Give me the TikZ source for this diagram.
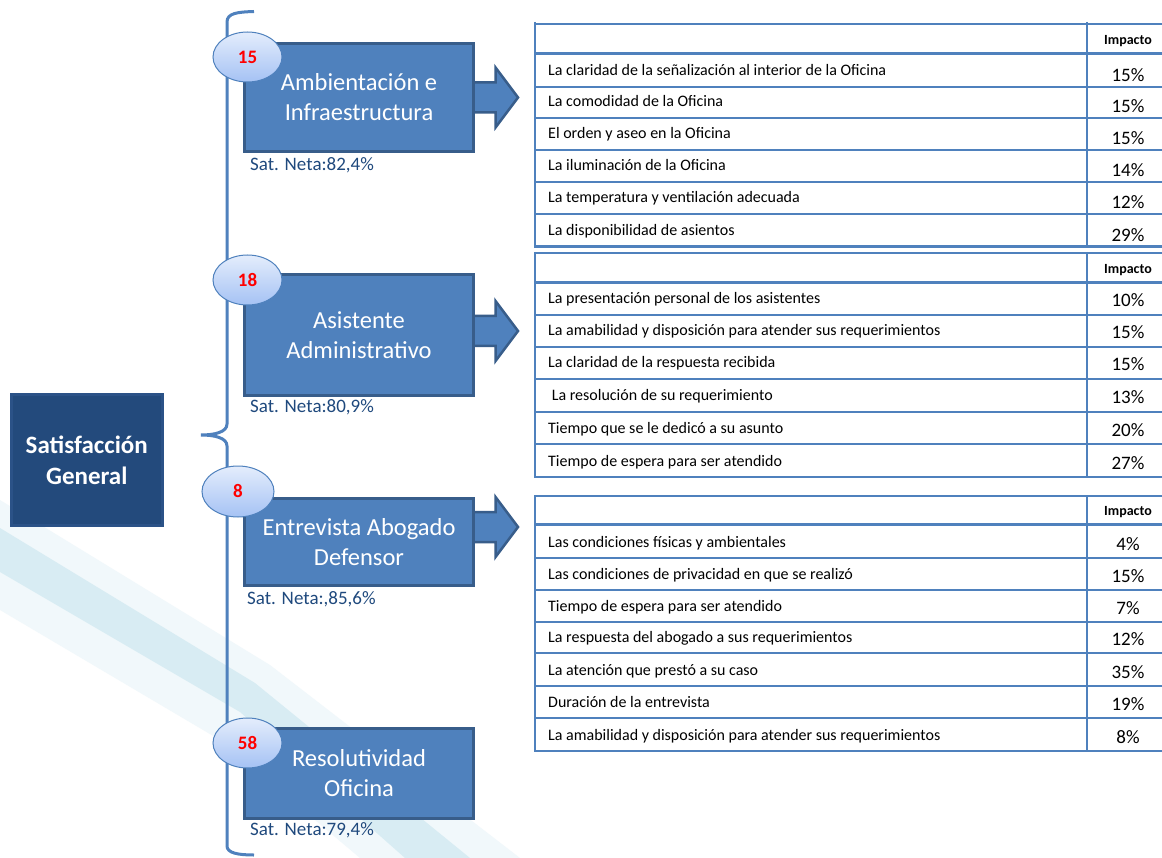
\documentclass[tikz,border=0pt]{standalone}
\usepackage{fontspec}
\setmainfont{Carlito}
\usetikzlibrary{shapes.geometric,calc}
\definecolor{boxfill}{HTML}{4F81BD}
\definecolor{boxline}{HTML}{385D8A}
\definecolor{sgfill}{HTML}{234A7C}
\definecolor{sgline}{HTML}{2B5287}
\definecolor{satcol}{HTML}{1F497D}
\definecolor{ovtop}{HTML}{E4EDFC}
\definecolor{ovbot}{HTML}{A5C2F4}
\definecolor{tabcol}{HTML}{4F81BD}
\definecolor{streak}{HTML}{D8ECF3}
\definecolor{streakwide}{HTML}{F1F8FB}
\pgfdeclarelayer{bg}
\pgfdeclarelayer{arrowlayer}
\pgfsetlayers{bg,arrowlayer,main}
\begin{document}
\begin{tikzpicture}[x=1pt,y=-1pt,
 catbox/.style={draw=boxline,line width=3pt,fill=boxfill,text=white,minimum width=229,align=center,inner sep=0pt,font=\fontsize{24.5}{30}\selectfont},
 sgbox/.style={draw=sgline,line width=3pt,fill=sgfill,text=white,minimum width=150.5,minimum height=131,align=center,inner sep=0pt,font=\bfseries\fontsize{25}{31}\selectfont},
 numoval/.style={ellipse,draw=boxfill,line width=1pt,top color=ovtop,bottom color=ovbot,text=red,font=\bfseries\fontsize{19}{22}\selectfont,minimum width=69,minimum height=50,inner sep=0pt},
 sattext/.style={anchor=base west,text=satcol,font=\fontsize{19}{22}\selectfont,inner sep=0pt},
 blockarrow/.style={draw=boxline,line width=2.5pt,fill=boxfill,line join=miter},
 brace/.style={draw=boxfill,line width=3pt},
 tabline/.style={draw=tabcol,line width=2pt},
 headline/.style={draw=tabcol,line width=3pt},
 rowtext/.style={anchor=base west,inner sep=0pt,font=\fontsize{16}{18}\selectfont},
 pcttext/.style={anchor=base,inner sep=0pt,font=\fontsize{19}{22}\selectfont},
 headtext/.style={anchor=base,inner sep=0pt,font=\bfseries\fontsize{14}{16}\selectfont},
]
\useasboundingbox (0,0) rectangle (1162,858);

% background streak
\begin{pgfonlayer}{bg}
\fill[white] (0,0) rectangle (1162,858);
\fill[streakwide] (0,500) -- (270,665) -- (520,858) -- (360,858) -- (220,740) -- (0,610) -- cycle;
\fill[streak] (0,528) -- (255,683) -- (470,858) -- (405,858) -- (240,712) -- (0,572) -- cycle;
\end{pgfonlayer}

% bracket
\draw[brace] (254,11.5) .. controls (238,12) and (227,13) .. (227,22) -- (227,424)
  .. controls (227,432) and (215,435) .. (201,435)
  .. controls (215,435) and (227,438) .. (227,446) -- (227,846)
  .. controls (227,853) and (238,855) .. (254,855);

% main box
\node[sgbox] (sg) at (86.75,460) {Satisfacción\\General};

% category boxes
\node[catbox,minimum height=108] (b1) at (359,97.5) {Ambientación e\\Infraestructura};
\node[catbox,minimum height=121] (b2) at (359,335) {Asistente\\Administrativo};
\node[catbox,minimum height=87] (b3) at (359,542) {Entrevista Abogado\\Defensor};
\node[catbox,minimum height=90] (b4) at (359,773.5) {Resolutividad\\Oficina};

% ovals
\node[numoval] (o1) at (247.5,57) {15};
\node[numoval] (o2) at (247.5,280) {18};
\node[numoval,minimum width=72,minimum height=51] (o3) at (238,491.5) {8};
\node[numoval] (o4) at (247.5,743) {58};

% sat texts
\node[sattext] (s1) at (250,171) {Sat. Neta:82,4\%};
\node[sattext] (s2) at (250,413) {Sat. Neta:80,9\%};
\node[sattext] (s3) at (247,604) {Sat. Neta:,85,6\%};
\node[sattext] (s4) at (250,835) {Sat. Neta:79,4\%};

% block arrows
\begin{pgfonlayer}{arrowlayer}
\foreach \b/\dy in {b1/0,b2/-4,b3/-15}{
  \draw[blockarrow] ($(\b.east)+(0,\dy-15)$) -- ($(\b.east)+(20.5,\dy-15)$) -- ($(\b.east)+(20.5,\dy-30)$)
    -- ($(\b.east)+(43,\dy)$) -- ($(\b.east)+(20.5,\dy+30)$) -- ($(\b.east)+(20.5,\dy+15)$)
    -- ($(\b.east)+(0,\dy+15)$);
}
\end{pgfonlayer}

% table 1
\draw[tabline] (535,22) -- (535,248);
\draw[tabline] (1087,22) -- (1087,248);
\draw[tabline] (535,24) -- (1163,24);
\draw[headline] (535,54) -- (1163,54);
\node[headtext] (t1h) at (1128,45) {Impacto};
\foreach \yb/\txt/\pc [count=\i] in {
  87/La claridad de la señalización al interior de la Oficina/15\%,
  118/La comodidad de la Oficina/15\%,
  150/El orden y aseo en la Oficina/15\%,
  182/La iluminación de la Oficina/14\%,
  214/La temperatura y ventilación adecuada/12\%,
  247/La disponibilidad de asientos/29\%}{
  \draw[tabline] (535,\yb) -- (1163,\yb);
  \node[rowtext] (t1r\i) at (548,\yb-11) {\txt};
  \node[pcttext] (t1p\i) at (1128,\yb-5) {\pc};
}
\draw[headline] (535,247) -- (1163,247);

% table 2
\draw[tabline] (535,252) -- (535,478);
\draw[tabline] (1087,252) -- (1087,478);
\draw[tabline] (535,253) -- (1163,253);
\draw[headline] (535,283) -- (1163,283);
\node[headtext] (t2h) at (1128,274) {Impacto};
\foreach \yb/\txt/\pc [count=\i] in {
  315/La presentación personal de los asistentes/10\%,
  347/La amabilidad y disposición para atender sus requerimientos/15\%,
  379/La claridad de la respuesta recibida/15\%,
  412/\ La resolución de su requerimiento/13\%,
  444/Tiempo que se le dedicó a su asunto/20\%,
  477/Tiempo de espera para ser atendido/27\%}{
  \draw[tabline] (535,\yb) -- (1163,\yb);
  \node[rowtext] (t2r\i) at (548,\yb-11) {\txt};
  \node[pcttext] (t2p\i) at (1128,\yb-8) {\pc};
}

% table 3
\draw[tabline] (535,495) -- (535,752);
\draw[tabline] (1087,495) -- (1087,752);
\draw[tabline] (535,496) -- (1163,496);
\draw[headline] (535,524) -- (1163,524);
\node[headtext] (t3h) at (1128,515) {Impacto};
\foreach \yb/\txt/\pc [count=\i] in {
  558/Las condiciones físicas y ambientales/4\%,
  590/Las condiciones de privacidad en que se realizó/15\%,
  622/Tiempo de espera para ser atendido/7\%,
  653/La respuesta del abogado a sus requerimientos/12\%,
  686/La atención que prestó a su caso/35\%,
  718/Duración de la entrevista/19\%,
  751/La amabilidad y disposición para atender sus requerimientos/8\%}{
  \draw[tabline] (535,\yb) -- (1163,\yb);
  \node[rowtext] (t3r\i) at (548,\yb-11) {\txt};
  \node[pcttext] (t3p\i) at (1128,\yb-8) {\pc};
}
\end{tikzpicture}
\end{document}
